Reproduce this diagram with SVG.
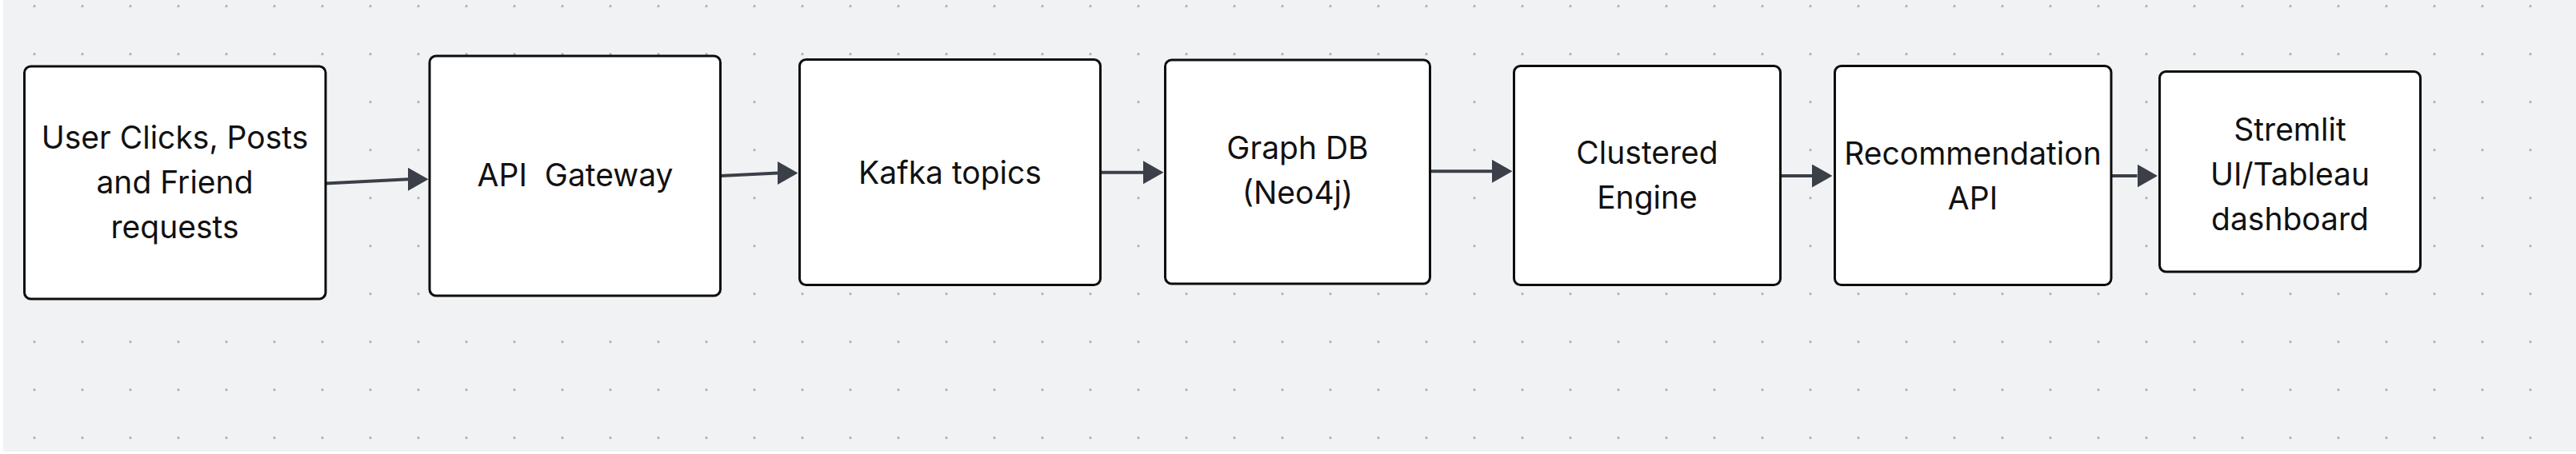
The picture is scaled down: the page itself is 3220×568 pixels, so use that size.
<svg xmlns="http://www.w3.org/2000/svg" width="3220" height="568" viewBox="0 0 3220 568">
<defs>
<pattern id="dots" patternUnits="userSpaceOnUse" x="0" y="0" width="60" height="60"><circle cx="43" cy="7.7" r="1.6" fill="#b0b2b7"/></pattern>
<marker id="ah" markerUnits="userSpaceOnUse" markerWidth="27" markerHeight="30" refX="0" refY="14.5" orient="0"><path d="M0,0 L25.5,14.5 L0,29 Z" fill="#3b3f47"/></marker>
<style>
.box{fill:#ffffff;stroke:#0d0d0d;stroke-width:3}
.lbl{font-family:Inter,"Noto Sans",sans-serif;font-size:39px;fill:#111111;text-anchor:middle}
.edge{fill:none;stroke:#3b3f47;stroke-width:4}
</style>
</defs>
<rect x="0" y="0" width="3220" height="568" fill="#ffffff"/>
<rect x="4" y="0" width="3216" height="565" fill="#f1f2f4"/>
<rect x="4" y="0" width="3216" height="565" fill="url(#dots)"/>
<g id="connectors">
<path class="edge" d="M407,229.5 L510,224.3" marker-end="url(#ah)"/>
<path class="edge" d="M900.5,220 L972,216.5" marker-end="url(#ah)"/>
<path class="edge" d="M1375.5,215.7 L1429,215.7" marker-end="url(#ah)"/>
<path class="edge" d="M1787.5,214.3 L1865,214.3" marker-end="url(#ah)"/>
<path class="edge" d="M2225.5,220 L2265,220" marker-end="url(#ah)"/>
<path class="edge" d="M2639,220 L2671.5,220" marker-end="url(#ah)"/>
</g>
<g id="user-input">
<rect class="box" x="30.5" y="83" width="376.5" height="291" rx="8"/>
<text class="lbl" x="218.5" y="185.5">User Clicks, Posts</text>
<text class="lbl" x="218.5" y="241.5">and Friend</text>
<text class="lbl" x="218.5" y="297.5">requests</text>
</g>
<g id="api-gateway">
<rect class="box" x="537" y="70" width="363.5" height="300" rx="8"/>
<text class="lbl" x="719" y="233" xml:space="preserve">API  Gateway</text>
</g>
<g id="kafka">
<rect class="box" x="999.5" y="74.5" width="376" height="282" rx="8"/>
<text class="lbl" x="1187.5" y="229.5">Kafka topics</text>
</g>
<g id="graph-db">
<rect class="box" x="1456.5" y="75" width="331" height="280" rx="8"/>
<text class="lbl" x="1622" y="198.5">Graph DB</text>
<text class="lbl" x="1622" y="254.5">(Neo4j)</text>
</g>
<g id="clustered-engine">
<rect class="box" x="1892.5" y="82.5" width="333" height="274" rx="8"/>
<text class="lbl" x="2059" y="204.5">Clustered</text>
<text class="lbl" x="2059" y="260.5">Engine</text>
</g>
<g id="recommendation-api">
<rect class="box" x="2293.5" y="82.5" width="345.5" height="274" rx="8"/>
<text class="lbl" x="2466" y="205.5">Recommendation</text>
<text class="lbl" x="2466" y="261.5">API</text>
</g>
<g id="dashboard">
<rect class="box" x="2699.5" y="89.5" width="326" height="250.5" rx="8"/>
<text class="lbl" x="2862.5" y="175.5">Stremlit</text>
<text class="lbl" x="2862.5" y="231.5">UI/Tableau</text>
<text class="lbl" x="2862.5" y="287.5">dashboard</text>
</g>
</svg>
